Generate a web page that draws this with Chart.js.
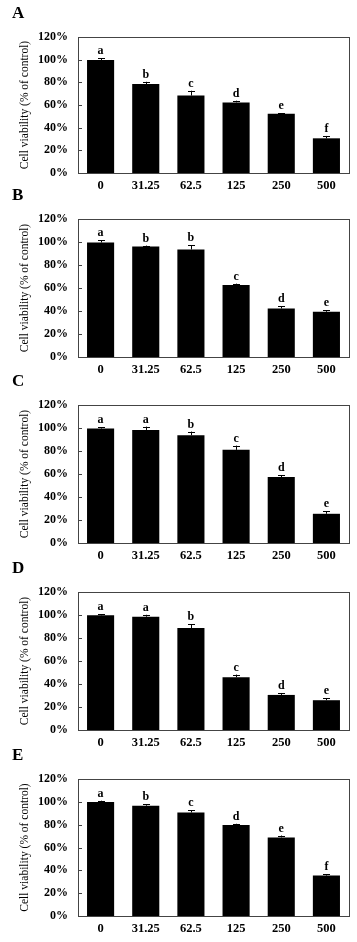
<!DOCTYPE html>
<html>
<head>
<meta charset="utf-8">
<script src="https://cdn.jsdelivr.net/npm/chart.js@4.4.1/dist/chart.umd.min.js"></script>
<style>
  html, body { margin: 0; padding: 0; background: #fff; }
  #wrap { position: relative; width: 357px; height: 942px; overflow: hidden; background: #fff; }
  canvas { position: absolute; left: 0; }
</style>
</head>
<body>
<div id="wrap"></div>
<script>
// ---- data ----
const categories = ['0', '31.25', '62.5', '125', '250', '500'];
const panelNames = ['A', 'B', 'C', 'D', 'E'];
const yTickValues = [0, 20, 40, 60, 80, 100, 120];
const yTitle = 'Cell viability (% of control)';

const valuesA = [99.6, 78.5, 68.3, 62.3, 52.2, 30.6];
const errorsA = [1.5, 2.0, 4.3, 1.5, 0.5, 2.1];
const lettersA = ['a', 'b', 'c', 'd', 'e', 'f'];

const valuesB = [99.6, 96.1, 93.5, 62.6, 42.2, 39.3];
const errorsB = [1.8, 0.8, 3.5, 1.2, 1.8, 1.5];
const lettersB = ['a', 'b', 'b', 'c', 'd', 'e'];

const valuesC = [99.5, 98.3, 93.7, 81.0, 57.3, 25.4];
const errorsC = [1.2, 2.9, 3.2, 3.7, 1.4, 2.1];
const lettersC = ['a', 'a', 'b', 'c', 'd', 'e'];

const valuesD = [99.7, 98.5, 88.6, 45.9, 30.5, 25.9];
const errorsD = [1.1, 1.7, 3.5, 2.3, 1.7, 1.7];
const lettersD = ['a', 'a', 'b', 'c', 'd', 'e'];

const valuesE = [99.8, 96.6, 90.7, 79.6, 68.8, 35.4];
const errorsE = [1.2, 1.2, 2.1, 1.2, 1.7, 1.2];
const lettersE = ['a', 'b', 'c', 'd', 'e', 'f'];

const panelValues = [valuesA, valuesB, valuesC, valuesD, valuesE];
const panelErrors = [errorsA, errorsB, errorsC, errorsD, errorsE];
const panelLetters = [lettersA, lettersB, lettersC, lettersD, lettersE];

// ---- layout (page pixels) ----
const canvasTops = [0, 185, 370, 555, 740];
const plotTops = [37, 219, 405, 592, 779];
const plotBottoms = [173, 357, 543, 730, 916];
const CANVAS_H = 200;
const SERIF = "'Liberation Serif', 'Times New Roman', serif";

const annotatePlugin = {
  id: 'annotate',
  afterDraw(chart, args, opts) {
    const ctx = chart.ctx;
    const area = chart.chartArea;
    const yScale = chart.scales.y;
    ctx.save();
    // frame around plot area
    ctx.strokeStyle = '#444';
    ctx.lineWidth = 1;
    ctx.strokeRect(Math.round(area.left) + 0.5, Math.round(area.top) + 0.5,
                   Math.round(area.right - area.left), Math.round(area.bottom - area.top));
    // inner ticks on y axis
    ctx.beginPath();
    yScale.ticks.forEach(t => {
      const py = Math.round(yScale.getPixelForValue(t.value)) + 0.5;
      ctx.moveTo(area.left, py);
      ctx.lineTo(area.left + 4, py);
    });
    ctx.stroke();
    // error bars and significance letters
    const meta = chart.getDatasetMeta(0);
    const ds = chart.data.datasets[0];
    ctx.strokeStyle = '#000';
    ctx.fillStyle = '#000';
    ctx.font = 'bold 12px ' + SERIF;
    ctx.textAlign = 'center';
    ctx.textBaseline = 'alphabetic';
    meta.data.forEach((bar, i) => {
      const v = ds.data[i];
      const e = opts.errors[i];
      const x = Math.round(bar.x) + 0.5;
      const yTop = yScale.getPixelForValue(v + e);
      ctx.beginPath();
      ctx.moveTo(x, bar.y);
      ctx.lineTo(x, yTop);
      ctx.moveTo(x - 3.5, Math.round(yTop) + 0.5);
      ctx.lineTo(x + 3.5, Math.round(yTop) + 0.5);
      ctx.stroke();
      ctx.fillText(opts.letters[i], bar.x, yTop - 4);
    });
    // panel label
    ctx.font = 'bold 17px ' + SERIF;
    ctx.textAlign = 'left';
    ctx.fillText(opts.panel, 12, area.top - 19);
    ctx.restore();
  }
};

const wrap = document.getElementById('wrap');
panelNames.forEach((name, p) => {
  const cv = document.createElement('canvas');
  cv.width = 357;
  cv.height = CANVAS_H;
  cv.style.top = canvasTops[p] + 'px';
  cv.style.width = '357px';
  cv.style.height = CANVAS_H + 'px';
  wrap.appendChild(cv);
  const top = plotTops[p] - canvasTops[p];
  const bottom = plotBottoms[p] - canvasTops[p];
  new Chart(cv.getContext('2d'), {
    type: 'bar',
    data: {
      labels: categories,
      datasets: [{
        data: panelValues[p],
        backgroundColor: '#000',
        borderColor: '#000',
        borderWidth: 0,
        barPercentage: 0.6,
        categoryPercentage: 1.0
      }]
    },
    options: {
      responsive: false,
      animation: false,
      devicePixelRatio: 1,
      layout: { padding: { top: top, left: 0, right: 8, bottom: 0 } },
      plugins: {
        legend: { display: false },
        tooltip: { enabled: false },
        annotate: { errors: panelErrors[p], letters: panelLetters[p], panel: name }
      },
      scales: {
        x: {
          grid: { display: false, drawTicks: false },
          border: { display: false },
          ticks: {
            color: '#000',
            padding: 5,
            font: { family: SERIF, size: 12.5, weight: 'bold' }
          },
          afterFit(scale) { scale.height = CANVAS_H - bottom; }
        },
        y: {
          min: 0,
          max: 120,
          afterBuildTicks(scale) { scale.ticks = yTickValues.map(v => ({ value: v })); },
          grid: { display: false, drawTicks: false },
          border: { display: false },
          ticks: {
            color: '#000',
            padding: 10,
            font: { family: SERIF, size: 12, weight: 'bold' },
            callback: v => v + '%'
          },
          title: {
            display: true,
            text: yTitle,
            color: '#000',
            font: { family: SERIF, size: 11.5 },
            padding: { top: 18, bottom: 0 }
          },
          afterFit(scale) { scale.width = 78; }
        }
      }
    },
    plugins: [annotatePlugin]
  });
});
</script>
</body>
</html>
